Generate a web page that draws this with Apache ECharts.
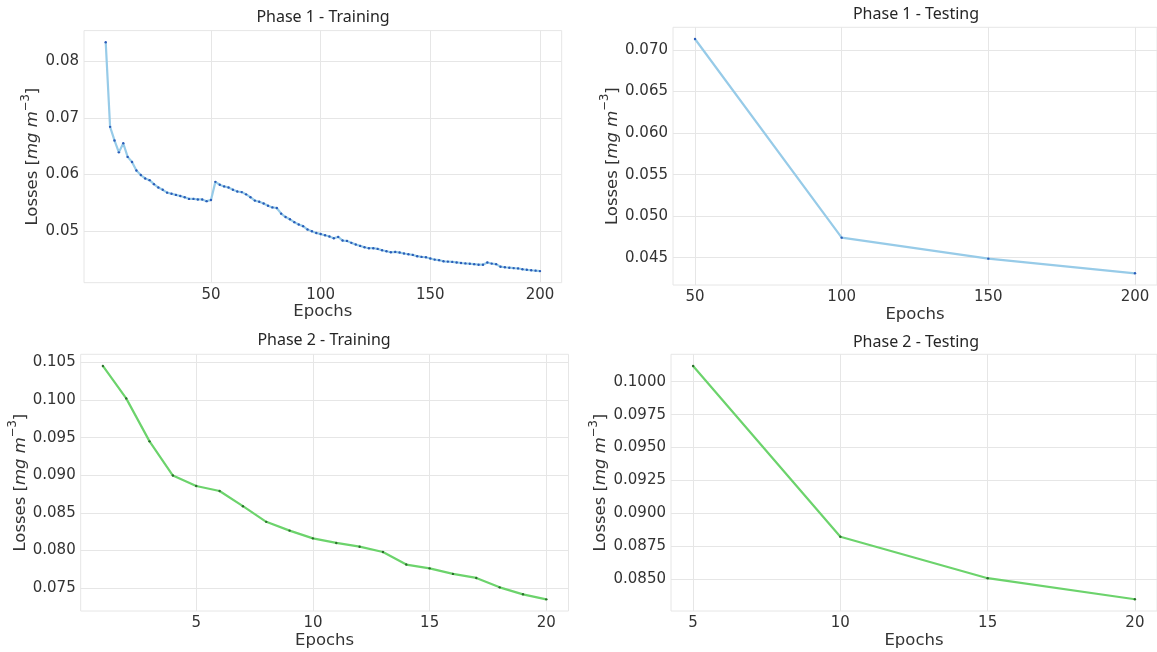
<!DOCTYPE html>
<html><head><meta charset="utf-8">
<script src="https://cdn.jsdelivr.net/npm/echarts@6/dist/echarts.min.js"></script>
<style>html,body{margin:0;padding:0;background:#fff}#c{width:1157px;height:652px}</style>
</head><body><div id="c"></div><script>
// ---- data ----
const titles = ['Phase 1 - Training', 'Phase 1 - Testing', 'Phase 2 - Training', 'Phase 2 - Testing'];
const xName = 'Epochs';

const p1TrainEpochs = [2,4,6,8,10,12,14,16,18,20,22,24,26,28,30,32,34,36,38,40,42,44,46,48,50,
  52,54,56,58,60,62,64,66,68,70,72,74,76,78,80,82,84,86,88,90,92,94,96,98,100,
  102,104,106,108,110,112,114,116,118,120,122,124,126,128,130,132,134,136,138,140,142,144,146,148,150,
  152,154,156,158,160,162,164,166,168,170,172,174,176,178,180,182,184,186,188,190,192,194,196,198,200];
const p1TrainLoss = [0.0833,0.0684,0.0660,0.0639,0.0655,0.0631,0.0622,0.0607,0.0599,0.0593,
  0.0590,0.0583,0.0577,0.0573,0.0568,0.0566,0.0564,0.0562,0.0560,0.0557,
  0.0557,0.0556,0.0556,0.0553,0.0555,0.0587,0.0582,0.0579,0.0577,0.0573,
  0.0570,0.0569,0.0565,0.0560,0.0554,0.0552,0.0549,0.0545,0.0542,0.0541,
  0.0531,0.0525,0.0521,0.0516,0.0512,0.0509,0.0503,0.0500,0.0497,0.0495,
  0.0493,0.04906,0.04877,0.0490,0.04836,0.0483,0.04795,0.04765,0.04742,0.04718,
  0.04701,0.04701,0.04689,0.04665,0.04648,0.0463,0.04636,0.04624,0.04607,0.04595,
  0.04583,0.0456,0.04548,0.04542,0.0452,0.0450,0.0449,0.0447,0.04465,0.0446,
  0.0445,0.0444,0.04433,0.04427,0.0442,0.0441,0.0441,0.0445,0.0443,0.0442,
  0.04375,0.04365,0.04357,0.0435,0.04345,0.0433,0.0432,0.04312,0.04305,0.04297];

const p1TestEpochs = [50, 100, 150, 200];
const p1TestLoss = [0.07133, 0.04741, 0.04488, 0.04312];

const p2TrainEpochs = [1,2,3,4,5,6,7,8,9,10,11,12,13,14,15,16,17,18,19,20];
const p2TrainLoss = [0.10455,0.10023,0.09451,0.08996,0.08857,0.08790,0.08588,0.08380,0.08263,0.08160,
  0.08099,0.08049,0.07979,0.07811,0.07761,0.07687,0.07633,0.07508,0.07415,0.07348];

const p2TestEpochs = [5, 10, 15, 20];
const p2TestLoss = [0.10119, 0.08823, 0.08508, 0.08348];

// tick labels
const p1TrainXTicks = [50, 100, 150, 200];
const p1TrainYTicks = [0.05, 0.06, 0.07, 0.08];
const p1TestXTicks = [50, 100, 150, 200];
const p1TestYTicks = [0.045, 0.050, 0.055, 0.060, 0.065, 0.070];
const p2TrainXTicks = [5, 10, 15, 20];
const p2TrainYTicks = [0.075, 0.080, 0.085, 0.090, 0.095, 0.100, 0.105];
const p2TestXTicks = [5, 10, 15, 20];
const p2TestYTicks = [0.0850, 0.0875, 0.0900, 0.0925, 0.0950, 0.0975, 0.1000];

// ---- layout / style ----
const grids = [
  {left: 84, top: 30.6, width: 477.7, height: 252.1},
  {left: 673, top: 27.3, width: 487, height: 257.7},
  {left: 80.7, top: 354.3, width: 487.8, height: 256.7},
  {left: 671, top: 354.3, width: 491.7, height: 256.7}
];
const xRanges = [[-7.9, 209.9], [42.5, 207.5], [0.05, 20.95], [4.25, 20.75]];
const yRanges = [[0.04093, 0.08536], [0.04171, 0.07274], [0.07193, 0.1061], [0.08259, 0.10208]];
const yDecimals = [2, 3, 3, 4];
const yNameGaps = [38, 46, 48, 59];
const titlePos = [[323, 9], [916, 6], [324, 332], [916, 334]];
const lineColors = ['#97cbe8', '#97cbe8', '#6cd36c', '#6cd36c'];
const markColors = ['#2a5cb8', '#2a5cb8', '#2b6e2b', '#2b6e2b'];

const xs = [p1TrainEpochs, p1TestEpochs, p2TrainEpochs, p2TestEpochs];
const ys = [p1TrainLoss, p1TestLoss, p2TrainLoss, p2TestLoss];
const xt = [p1TrainXTicks, p1TestXTicks, p2TrainXTicks, p2TestXTicks];
const yt = [p1TrainYTicks, p1TestYTicks, p2TrainYTicks, p2TestYTicks];

const tickFont = 'DejaVu Sans';
const gridColor = '#e6e6e6';

const option = {
  animation: false,
  backgroundColor: '#fff',
  title: titles.map((t, i) => ({
    text: t, left: titlePos[i][0], top: titlePos[i][1], textAlign: 'center', padding: 0,
    textStyle: {fontFamily: 'Noto Sans', fontSize: 16, fontWeight: 'normal', color: '#262626'}
  })),
  grid: grids.map(g => Object.assign({show: true, borderColor: gridColor, borderWidth: 1, containLabel: false}, g)),
  xAxis: grids.map((g, i) => ({
    type: 'value', gridIndex: i, min: xRanges[i][0], max: xRanges[i][1],
    name: xName, nameLocation: 'middle', nameGap: 18,
    nameTextStyle: {fontFamily: tickFont, fontSize: 16.5, color: '#333', verticalAlign: 'top'},
    axisLine: {show: false},
    axisTick: {show: false, customValues: xt[i]},
    axisLabel: {customValues: xt[i], margin: 5, fontFamily: tickFont, fontSize: 15, color: '#333',
      formatter: v => String(v)},
    splitLine: {show: true, lineStyle: {color: gridColor, width: 1}}
  })),
  yAxis: grids.map((g, i) => ({
    type: 'value', gridIndex: i, min: yRanges[i][0], max: yRanges[i][1],
    name: '{n|Losses [}{i|mg m}{s|−3}{n|]}', nameLocation: 'middle', nameGap: yNameGaps[i],
    nameTextStyle: {
      rich: {
        n: {fontFamily: tickFont, fontSize: 16.5, color: '#333', lineHeight: 22, verticalAlign: 'bottom'},
        i: {fontFamily: tickFont, fontSize: 16.5, fontStyle: 'italic', color: '#333', lineHeight: 22, verticalAlign: 'bottom'},
        s: {fontFamily: tickFont, fontSize: 11.5, color: '#333', lineHeight: 22, verticalAlign: 'top'}
      }
    },
    axisLine: {show: false},
    axisTick: {show: false, customValues: yt[i]},
    axisLabel: {customValues: yt[i], margin: 5, fontFamily: tickFont, fontSize: 15, color: '#333',
      formatter: v => Number(v).toFixed(yDecimals[i])},
    splitLine: {show: true, lineStyle: {color: gridColor, width: 1}}
  })),
  series: grids.map((g, i) => ({
    type: 'line', xAxisIndex: i, yAxisIndex: i,
    data: xs[i].map((x, k) => [x, ys[i][k]]),
    symbol: 'circle', symbolSize: 2.4, showSymbol: true,
    lineStyle: {color: lineColors[i], width: 2.2},
    itemStyle: {color: markColors[i], borderWidth: 0},
    z: 3
  }))
};
const chart = echarts.init(document.getElementById('c'), null, {renderer: 'canvas'});
chart.setOption(option);
</script></body></html>
